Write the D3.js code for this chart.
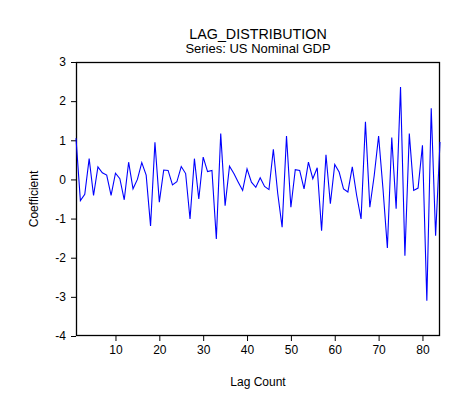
<!DOCTYPE html>
<html>
<head>
<meta charset="utf-8">
<script src="https://cdn.jsdelivr.net/npm/d3@7"></script>
<style>
  body { margin: 0; background: #fff; }
  svg text { font-family: "Liberation Sans", Arial, sans-serif; fill: #000; }
</style>
</head>
<body>
<script>
// Lag coefficients (lag 1..84)
const lags = d3.range(1, 85);
const coefficients = [
  1.05, -0.54, -0.38, 0.53, -0.41, 0.32, 0.17, 0.11, -0.41, 0.16,
  0.02, -0.52, 0.44, -0.24, 0.0, 0.43, 0.11, -1.19, 0.95, -0.58,
  0.24, 0.23, -0.14, -0.06, 0.33, 0.15, -1.01, 0.53, -0.5, 0.57,
  0.2, 0.23, -1.52, 1.17, -0.67, 0.34, 0.15, -0.07, -0.28, 0.27,
  -0.07, -0.2, 0.04, -0.18, -0.26, 0.77, -0.36, -1.22, 1.11, -0.71,
  0.25, 0.23, -0.24, 0.44, 0.02, 0.3, -1.31, 0.63, -0.62, 0.38,
  0.19, -0.24, -0.32, 0.32, -0.41, -1.01, 1.47, -0.71, 0.1, 1.11,
  -0.24, -1.75, 1.07, -0.75, 2.36, -1.95, 1.17, -0.28, -0.22, 0.87,
  -3.1, 1.82, -1.44, 0.96
];
const xTicks = [10, 20, 30, 40, 50, 60, 70, 80];
const yTicks = [-4, -3, -2, -1, 0, 1, 2, 3];

const width = 472, height = 412;
const margin = { top: 62, right: 32, bottom: 76, left: 76 };

const svg = d3.select('body')
    .append('svg')
    .attr('width', width)
    .attr('height', height);

const x = d3.scaleLinear()
    .domain([1, 84])
    .range([margin.left, width - margin.right]);

const y = d3.scaleLinear()
    .domain([-4, 3])
    .range([height - margin.bottom, margin.top]);

// x axis
const xAxis = svg.append('g')
    .attr('transform', `translate(0,${height - margin.bottom})`)
    .call(d3.axisBottom(x).tickValues(xTicks).tickSize(5).tickPadding(4)
        .tickFormat(d => String(d)));

// y axis
const yAxis = svg.append('g')
    .attr('transform', `translate(${margin.left},0)`)
    .call(d3.axisLeft(y).tickValues(yTicks).tickSize(5).tickPadding(5)
        .tickFormat(d => String(d)));

[xAxis, yAxis].forEach(g => {
    g.select('.domain').remove();
    g.selectAll('.tick line').attr('stroke', '#000');
    g.selectAll('.tick text')
        .style('font-size', '12px')
        .attr('fill', '#000');
});

// plot frame
svg.append('rect')
    .attr('x', margin.left + 0.5)
    .attr('y', margin.top + 0.5)
    .attr('width', width - margin.left - margin.right - 1)
    .attr('height', height - margin.top - margin.bottom - 1)
    .attr('fill', 'none')
    .attr('stroke', '#000')
    .attr('stroke-width', 1.3);

// the line
const line = d3.line()
    .x((d, i) => x(lags[i]))
    .y(d => y(d));

svg.append('path')
    .datum(coefficients)
    .attr('d', line)
    .attr('fill', 'none')
    .attr('stroke', '#0000ff')
    .attr('stroke-width', 1.1);

// titles
const cx = (margin.left + width - margin.right) / 2;

svg.append('text')
    .attr('x', cx)
    .attr('y', 39)
    .attr('text-anchor', 'middle')
    .style('font-size', '14.3px')
    .text('LAG_DISTRIBUTION');

svg.append('text')
    .attr('x', cx)
    .attr('y', 53)
    .attr('text-anchor', 'middle')
    .style('font-size', '13px')
    .text('Series: US Nominal GDP');

svg.append('text')
    .attr('x', cx)
    .attr('y', 386)
    .attr('text-anchor', 'middle')
    .style('font-size', '12px')
    .text('Lag Count');

svg.append('text')
    .attr('transform', `translate(38,${(margin.top + height - margin.bottom) / 2}) rotate(-90)`)
    .attr('text-anchor', 'middle')
    .style('font-size', '12px')
    .text('Coefficient');
</script>
</body>
</html>
